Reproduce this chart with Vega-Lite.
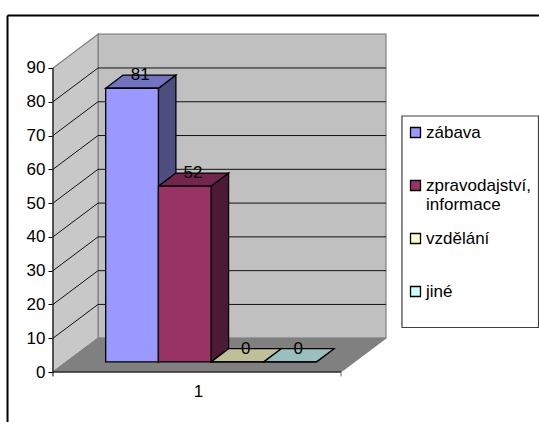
{
  "$schema": "https://vega.github.io/schema/vega-lite/v6.json",
  "width": 539,
  "height": 422,
  "autosize": {"type": "none"},
  "padding": 0,
  "background": "#ffffff",
  "config": {"view": {"stroke": null}, "text": {"font": "Liberation Sans"}},
  "datasets": {
    "answers": [
      {"series": "zábava", "value": 81},
      {"series": "zpravodajství, informace", "value": 52},
      {"series": "vzdělání", "value": 0},
      {"series": "jiné", "value": 0}
    ],
    "depth": [{"d": 0}, {"d": 1}],
    "levels": [{"v": 10}, {"v": 20}, {"v": 30}, {"v": 40}, {"v": 50}, {"v": 60}, {"v": 70}, {"v": 80}]
  },
  "layer": [
    {
      "data": {"values": [{}]},
      "mark": {"type": "rect", "fill": "#c0c0c0", "stroke": "#808080", "strokeWidth": 1.2},
      "encoding": {
        "x": {"datum": 0.854, "type": "quantitative", "scale": {"domain": [-1.0057, 9.2223], "nice": false, "zero": false},
          "axis": {"title": null, "orient": "bottom", "offset": -50, "values": [2.75], "grid": false, "domain": false,
            "tickSize": 0, "labelExpr": "'1'", "labelFont": "Liberation Sans", "labelFontSize": 17, "labelColor": "#000000", "labelPadding": 11, "labelOverlap": false}},
        "x2": {"datum": 6.319},
        "y": {"datum": 10, "type": "quantitative", "scale": {"domain": [-14.8, 110.125], "nice": false, "zero": false},
          "axis": {"title": null, "orient": "left", "offset": -53, "values": [0, 10, 20, 30, 40, 50, 60, 70, 80, 90], "grid": false, "domain": false,
            "tickColor": "#000000", "tickSize": 5, "labelFont": "Liberation Sans", "labelFontSize": 17, "labelColor": "#000000", "labelPadding": 3, "labelOverlap": false}},
        "y2": {"datum": 100}
      }
    },
    {
      "data": {"name": "depth"},
      "transform": [
        {"calculate": "0.854 * datum.d", "as": "wx"},
        {"calculate": "10 * datum.d", "as": "wy"},
        {"calculate": "90 + 10 * datum.d", "as": "wy2"}
      ],
      "mark": {"type": "area", "orient": "vertical", "fill": "#c8c8c8", "stroke": "#808080", "strokeWidth": 1.2},
      "encoding": {
        "x": {"field": "wx", "type": "quantitative"},
        "y": {"field": "wy", "type": "quantitative"},
        "y2": {"field": "wy2"}
      }
    },
    {
      "data": {"name": "depth"},
      "transform": [
        {"calculate": "0.854 * datum.d", "as": "fx"},
        {"calculate": "5.465 + 0.854 * datum.d", "as": "fx2"},
        {"calculate": "10 * datum.d", "as": "fy"}
      ],
      "mark": {"type": "area", "orient": "horizontal", "fill": "#808080", "stroke": "#808080", "strokeWidth": 1},
      "encoding": {
        "y": {"field": "fy", "type": "quantitative"},
        "x": {"field": "fx", "type": "quantitative"},
        "x2": {"field": "fx2"}
      }
    },
    {
      "data": {"name": "levels"},
      "transform": [
        {"calculate": "datum.v + 10", "as": "backV"},
        {"calculate": "0", "as": "x0"},
        {"calculate": "0.854", "as": "x1"}
      ],
      "mark": {"type": "rule", "color": "#111111", "strokeWidth": 1},
      "encoding": {
        "x": {"field": "x0", "type": "quantitative"},
        "x2": {"field": "x1"},
        "y": {"field": "v", "type": "quantitative"},
        "y2": {"field": "backV"}
      }
    },
    {
      "data": {"name": "levels"},
      "transform": [
        {"calculate": "datum.v + 10", "as": "backV"},
        {"calculate": "0.854", "as": "x0"},
        {"calculate": "6.319", "as": "x1"}
      ],
      "mark": {"type": "rule", "color": "#111111", "strokeWidth": 1},
      "encoding": {
        "x": {"field": "x0", "type": "quantitative"},
        "x2": {"field": "x1"},
        "y": {"field": "backV", "type": "quantitative"}
      }
    },
    {
      "data": {"values": [{}]},
      "mark": {"type": "rule", "color": "#000000", "strokeWidth": 1},
      "encoding": {
        "x": {"datum": 0, "type": "quantitative"},
        "y": {"datum": 0, "type": "quantitative"},
        "y2": {"datum": 90}
      }
    },
    {
      "data": {"values": [{}]},
      "mark": {"type": "rule", "color": "#000000", "strokeWidth": 1},
      "encoding": {
        "x": {"datum": 0, "type": "quantitative"},
        "x2": {"datum": 5.465},
        "y": {"datum": 0, "type": "quantitative"}
      }
    },
    {
      "data": {"values": [{}]},
      "mark": {"type": "rule", "color": "#000000", "strokeWidth": 1},
      "encoding": {
        "x": {"datum": 0, "type": "quantitative"},
        "y": {"datum": 0, "type": "quantitative"},
        "y2": {"datum": -1.3}
      }
    },
    {
      "data": {"values": [{}]},
      "mark": {"type": "rule", "color": "#666666", "strokeWidth": 1},
      "encoding": {
        "x": {"datum": 5.465, "type": "quantitative"},
        "y": {"datum": 0, "type": "quantitative"},
        "y2": {"datum": -1.3}
      }
    },
    {
      "data": {"name": "answers"},
      "transform": [
        {"window": [{"op": "row_number", "as": "slot"}]},
        {"calculate": "datum.slot + 1", "as": "right"},
        {"calculate": "datum.value + 3", "as": "top"},
        {"calculate": "[0, 1]", "as": "d"},
        {"flatten": ["d"]},
        {"calculate": "datum.right + 0.332 * datum.d", "as": "sx"},
        {"calculate": "3 + 3.9 * datum.d", "as": "sy"},
        {"calculate": "datum.top + 3.9 * datum.d", "as": "sy2"}
      ],
      "mark": {"type": "area", "orient": "vertical", "stroke": "#000000", "strokeWidth": 1.3},
      "encoding": {
        "x": {"field": "sx", "type": "quantitative"},
        "y": {"field": "sy", "type": "quantitative"},
        "y2": {"field": "sy2"},
        "color": {"field": "series", "type": "nominal", "legend": null,
          "scale": {"domain": ["zábava", "zpravodajství, informace", "vzdělání", "jiné"], "range": ["#4d4d80", "#4d1a33", "#807f66", "#668080"]}}
      }
    },
    {
      "data": {"name": "answers"},
      "transform": [
        {"window": [{"op": "row_number", "as": "slot"}]},
        {"calculate": "datum.slot + 1", "as": "right"},
        {"calculate": "datum.value + 3", "as": "top"},
        {"calculate": "[0, 1]", "as": "d"},
        {"flatten": ["d"]},
        {"calculate": "datum.top + 3.9 * datum.d", "as": "ty"},
        {"calculate": "datum.slot + 0.332 * datum.d", "as": "tx"},
        {"calculate": "datum.right + 0.332 * datum.d", "as": "tx2"}
      ],
      "mark": {"type": "area", "orient": "horizontal", "stroke": "#000000", "strokeWidth": 1.3},
      "encoding": {
        "y": {"field": "ty", "type": "quantitative"},
        "x": {"field": "tx", "type": "quantitative"},
        "x2": {"field": "tx2"},
        "color": {"field": "series", "type": "nominal", "legend": null,
          "scale": {"domain": ["zábava", "zpravodajství, informace", "vzdělání", "jiné"], "range": ["#7373bf", "#73264d", "#bfbf99", "#99bfbf"]}}
      }
    },
    {
      "data": {"name": "answers"},
      "transform": [
        {"window": [{"op": "row_number", "as": "slot"}]},
        {"calculate": "datum.slot + 1", "as": "right"},
        {"calculate": "3", "as": "base"},
        {"calculate": "datum.value + 3", "as": "top"}
      ],
      "mark": {"type": "rect", "stroke": "#000000", "strokeWidth": 1.3},
      "encoding": {
        "x": {"field": "slot", "type": "quantitative"},
        "x2": {"field": "right"},
        "y": {"field": "base", "type": "quantitative"},
        "y2": {"field": "top"},
        "color": {"field": "series", "type": "nominal",
          "scale": {"domain": ["zábava", "zpravodajství, informace", "vzdělání", "jiné"], "range": ["#9999ff", "#993366", "#ffffcc", "#ccffff"]},
          "legend": {"title": null, "orient": "none", "legendX": 407, "legendY": 124, "zindex": 1, "padding": 0,
            "symbolType": "square", "symbolSize": 100, "symbolStrokeColor": "#000000", "symbolStrokeWidth": 1.3, "symbolOpacity": 1,
            "labelFont": "Liberation Sans", "labelFontSize": 17, "labelColor": "#000000", "labelLimit": 130, "labelOffset": 2,
            "rowPadding": 16,
            "labelExpr": "datum.label == 'zpravodajství, informace' ? ['zpravodajství,', 'informace'] : [datum.label, '']"}}
      }
    },
    {
      "data": {"name": "answers"},
      "transform": [
        {"window": [{"op": "row_number", "as": "slot"}]},
        {"calculate": "datum.value + 6.9", "as": "topBack"},
        {"calculate": "datum.slot + 0.655", "as": "labelX"}
      ],
      "mark": {"type": "text", "font": "Liberation Sans", "fontSize": 17, "color": "#000000", "baseline": "middle", "align": "center"},
      "encoding": {
        "x": {"field": "labelX", "type": "quantitative"},
        "y": {"field": "topBack", "type": "quantitative"},
        "text": {"field": "value", "type": "quantitative"}
      }
    },
    {
      "data": {"values": [{}]},
      "mark": {"type": "rect", "fillOpacity": 0, "stroke": "#404040", "strokeWidth": 1.2},
      "encoding": {
        "x": {"datum": 6.622, "type": "quantitative"},
        "x2": {"datum": 9.213},
        "y": {"datum": 13.17, "type": "quantitative"},
        "y2": {"datum": 75.78}
      }
    },
    {
      "data": {"values": [{}]},
      "mark": {"type": "rule", "color": "#000000", "strokeWidth": 2},
      "encoding": {
        "x": {"datum": -0.863, "type": "quantitative"},
        "x2": {"datum": 9.2223},
        "y": {"datum": 105.53, "type": "quantitative"}
      }
    },
    {
      "data": {"values": [{}]},
      "mark": {"type": "rule", "color": "#000000", "strokeWidth": 2},
      "encoding": {
        "x": {"datum": -0.863, "type": "quantitative"},
        "y": {"datum": 105.53, "type": "quantitative"},
        "y2": {"datum": -14.8}
      }
    }
  ],
  "resolve": {"scale": {"color": "independent"}}
}
